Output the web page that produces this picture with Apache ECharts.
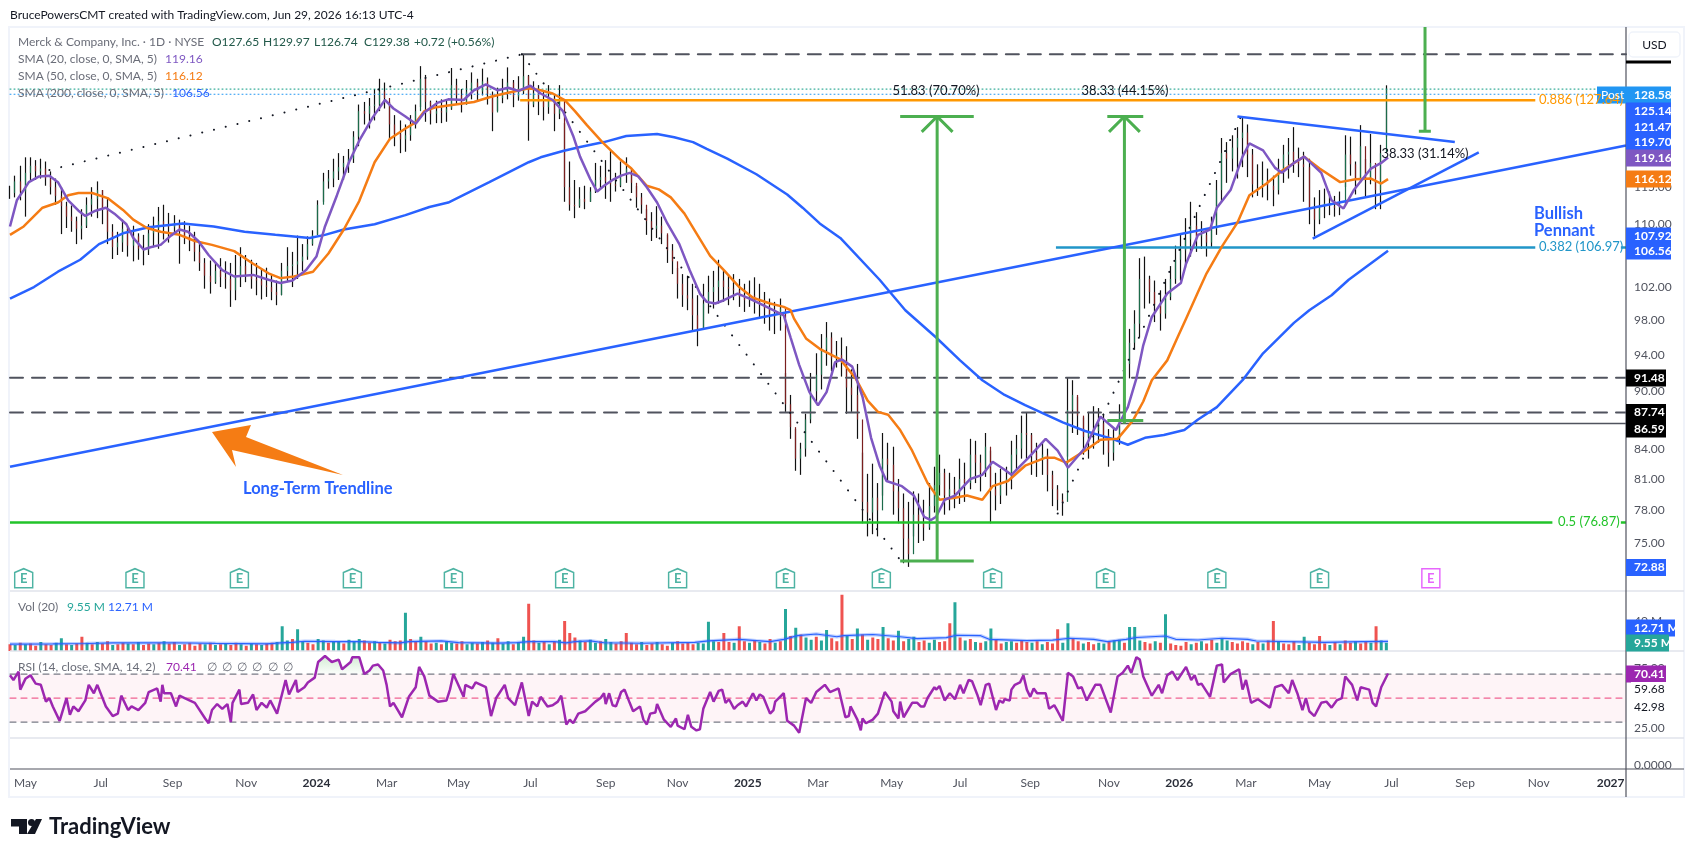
<!DOCTYPE html>
<html>
<head>
<meta charset="utf-8">
<title>MRK</title>
<script src="https://cdn.jsdelivr.net/npm/echarts@6/dist/echarts.min.js"></script>
<style>
html,body{margin:0;padding:0;background:#fff}
#main{width:1695px;height:857px}
</style>
</head>
<body>
<div id="main"></div>
<script>
// one bar every 3 sessions, bar number = position on the time scale
var barStep = 3;
var highs = [
115.2,116.6,118,119.2,119.2,118.8,119,118.6,117.2,116.2,115,113,
112.5,111,112,113.6,115,115.8,114.6,113.4,110,109,110.6,109.6,
109.8,108.8,108.6,110,111,112.3,112.6,111.5,111.2,110.6,110.4,109.8,
109,107.8,105.6,105.3,105,105.6,105.2,105,106,107,106,105.4,
105,104.2,104.4,103.6,102.8,105,107,106.4,108.5,107.4,108.4,109.2,
113.2,117,117.4,119,119.8,119.4,120.4,123,127,127.4,128,129.4,
131,130.4,127.4,125.4,124.6,124,125.4,127,133,131.6,127.6,127.6,
127.8,127.8,132.7,131,129.4,130.8,132,131,132.6,131.2,129,129.6,
131,132.8,130.8,131.4,134.9,131.6,130.6,130,129.2,130,128.6,130,
124.2,118.6,116,115,115.2,115,118.4,118,118.8,120.2,117,118.6,
119.2,117.4,115.2,114.2,112,111.6,112.4,111,108.6,107.4,104.4,103.6,
103.4,102.4,101,102.4,103.4,104,105.4,104,103.6,103.6,103,102.4,
102.8,103.2,102.4,101.4,100.6,100.2,100.6,92,89.6,86,84.6,87.6,
92,94.2,96.4,97.8,96.6,95.6,96,95,92.4,93,83.6,81.5,
82.5,80.6,85.6,84.6,84.2,81,79.6,78.8,79.8,79.6,79,80.6,
82.2,83.4,82,81.6,81.2,83,82.6,85,84.8,83.4,85.6,83.8,
81.6,82,82.2,84.8,85.4,87.4,87.7,85.6,84.6,84.6,84,81.8,
80.4,79.6,91.48,91.2,89.4,87.2,87.8,88.4,88.2,87.6,86,86,
88.6,95,97,99.2,105.6,105.8,103.4,102.8,101.6,103,104.6,107.2,
108.8,110.8,113,111.6,110.4,109.4,111,116,122,121.4,122.4,123.6,
125.14,124,120.4,118.2,118.6,117.6,116.6,119,121,122,123.6,120.6,
120,119,113.6,114.6,114.8,114.4,113.8,114.4,122.4,122.2,118.6,123.9,
119,122.6,116,121,129.97];
var lows = [
113.4,113.6,113.2,111,115.8,116,116.2,115.2,114,112.6,108.7,109.5,
109,107.4,108,109.5,111,110.8,110,107.4,105.5,106,106.4,105.8,
105.2,105.4,104.7,106,107,106.8,108,107.6,108.8,104.9,107.4,106.5,
105.2,104,101.8,101.2,102.4,102,101.8,99.6,100.4,102,102.6,101.8,
101,100.5,100.8,100.4,99.8,101,102.6,102,103,104,105.4,107.2,
108.6,113,114.8,115,116,116,117,118.4,120.8,124,123.4,124.6,
126,126.4,121.6,120.8,119.8,120,121.6,123.4,126.6,124.4,124,124.2,
124.2,124.4,126.2,127,125.8,127,127.8,127.4,128.4,127,123,126,
127.2,127.8,126.6,127.6,128.6,121.6,126.6,125.4,124.6,125.6,123,124.8,
113,111.8,110.8,112.2,112,113,114.2,114.8,113.4,113,114.4,115,
115.6,114.2,112.2,111.4,108.6,107.8,108.2,107.4,105,103.6,100.6,99.6,
99.2,96.8,95,97,98.8,99.4,100,100.2,99.8,100.4,99.6,99,
99.6,98.8,98.4,97.6,96.8,96.4,96.8,87.8,85,81.8,81.4,83.2,
86.6,88.8,90.2,92.8,92.2,92.6,91.6,87.6,87.8,85,76.8,75.6,
75.8,75.6,79.4,80.8,77.6,76.8,73.2,72.88,75.6,75,75.2,76.2,
77.8,79.4,77.6,78,78.2,78.6,78.8,80,80.6,79.8,81.2,76.8,
78,78.6,79.4,80,81.8,83,83,81.4,81.2,81.4,79.8,78.4,
78,77.5,83.2,85.6,85.4,83.4,83,84,84.6,83.4,82.2,82.8,
84.4,88,91.4,94.6,96,99.4,100,97.8,96.8,98.2,100.4,102.4,
102.8,104.4,105.8,106.4,106.8,105.8,107,108.6,113,115.6,117.2,116.2,
117.8,116.4,113.6,113.8,113.6,113.2,112.4,114,115.6,116.2,117,116.4,
113,110,108.4,110,110.8,111.2,111,111.2,115,116.6,114,115.6,
113.6,115.4,112,112,122.2];
var closes = [
114.2,115.8,114.4,117,118,117.2,117.6,116.2,115,113.8,112.4,111,
110.4,109.4,109.8,112.6,113.4,114.6,112,109,107,107.6,109.4,107.2,
108.4,106.8,106.6,108.8,109.4,110.4,110,109.6,110.2,109,108.4,107.8,
106.4,105,103.4,102.6,104,103.2,103,101.6,103.4,104.6,103.6,103,
102.8,102.2,102,101.4,101,104,104.6,104.8,105.2,105.8,107.4,108.6,
112.6,115.8,116.2,117.2,117.8,118.4,119,122.2,126,125.6,126.8,127,
129,128,124,122.6,121.8,122.4,124,126,131,127.4,125.6,126,
125.8,126.4,130,128.4,127,129,130.4,129,130.6,128.6,125.8,128,
129,130.4,128.2,129,131.4,127,128.8,127.4,126.6,128,125.6,127.6,
115,112.6,112.4,113.4,113,114.4,116,116.4,115.8,115.4,115.2,116.8,
117.6,115.6,113.6,112.6,110.4,109.4,109.8,108.8,106.6,105.2,102.4,101,
100.6,98.6,97,100,101.4,102,102.8,102,101.8,101.6,100.8,100.4,
101,100.2,100,99.4,98.6,98.4,99.4,88.6,86.2,83,84,87,
90,91.8,94.6,96,93.6,94,93.4,90.4,89.6,87,78.8,77.8,
79.2,78,83,82.4,79.8,78.2,75.4,74,77.6,76.8,76.4,78.4,
80.4,81.6,79.4,80,79.6,81,80.6,83.4,82.6,81.6,84.2,80,
79.4,80.6,81,83.4,84,85.6,85.4,83.6,83,83.4,81.4,80,
79,78.8,88,89.6,87.4,85.2,85.6,85.8,86.6,85.4,83.6,85,
87.6,93,95.4,97.6,103,103,101.4,99.8,98.8,100.8,103,105.4,
106.6,108,109.8,108.4,108.6,107.6,109.4,114.6,119.8,119,120.6,122,
122.8,119.6,115.4,115.4,116,115.2,114.6,117.4,119.6,120,118.8,118.2,
117.8,112,110.6,112.4,112.8,112.4,112.2,112.6,119.6,118.2,116,120.8,
116,118.4,114.6,119.8,129.38];
var volumes = [
9,8,11,9,10,7,12,9,8,11,17,9,
8,10,19,11,9,12,10,13,8,9,11,10,
9,12,8,10,9,11,13,10,12,8,9,11,
7,10,9,11,8,9,10,8,11,9,7,10,
9,8,10,11,12,33,14,16,29,13,11,9,
16,14,11,13,12,10,15,12,16,14,11,13,
12,10,15,13,14,51,16,12,19,13,10,11,
9,12,11,10,13,9,11,10,12,14,11,17,
10,13,9,12,19,63,14,11,13,9,12,15,
40,24,18,14,12,15,11,13,16,12,10,13,
24,11,9,12,8,10,12,9,7,11,13,10,
12,9,11,10,39,13,12,24,12,11,33,13,
11,14,12,10,16,11,13,56,20,31,22,18,
15,19,14,28,17,13,75,20,16,30,22,15,
18,16,32,17,14,27,13,16,19,12,14,11,
15,12,13,37,65,18,14,16,12,11,13,30,
16,10,12,13,11,14,12,11,13,9,12,10,
29,11,37,16,13,10,12,9,11,10,12,14,
15,11,32,32,14,12,10,13,11,49,10,8,
7,12,9,11,13,10,15,11,17,14,12,10,
13,11,9,12,10,14,40,12,10,9,13,8,
19,11,9,20,10,8,12,9,14,11,13,10,
12,11,33,14,11];
var volSide = ("dududdudduud"+"uddududduddu"+"duddududdudd"+"ddudududdudu"+"dudduuuduudd"+"uuduuduuuddu"+
 "dudddudduddu"+"duudduududud"+"uuduuddududu"+"ddduduuduudd"+"dddudduddudd"+"dduuuudddudd"+
 "ududdudududu"+"uduudddududu"+"ddudduduuddu"+"udddudududuu"+"dduudddududd"+"duuddudduudu"+
 "uduuuddududd"+"ddududduuudd"+"ddududdudddu"+"uddddududdud"+"duduu");

// [bar, value] pairs
var sma20 = [[0,109.7],[4,113.2],[8,114.6],[11,115.7],[17,116.5],[23,116.6],[28,115.7],[34,113.2],[40,111.8],[44,111.1],[50,111.8],[56,112.2],[61,111.4],[68,110],[72,108.2],[78,106.7],[82,107],[88,107.3],[94,108.5],[99,109.3],[104,109],[110,107.8],[116,106],[124,104.1],[131,103.3],[142,103.5],[151,102.9],[158,102.5],[165,102.8],[173,104.1],[179,105.8],[184,109.7],[191,113.9],[198,118.5],[204,121.6],[212,125.1],[219,127.7],[224,126.4],[231,125.2],[237,124.1],[242,125.8],[250,127.3],[256,127.8],[265,127.7],[271,129.2],[278,130.1],[285,129.2],[291,129.6],[297,129.1],[304,129.9],[310,128.7],[317,127.7],[323,126],[329,122.3],[333,119.3],[339,116.1],[343,114.4],[347,115.2],[352,116],[357,116.6],[362,117],[367,116.5],[372,115],[378,112.9],[384,110.1],[391,107.4],[397,104.1],[403,101.2],[407,100.2],[412,100],[417,100.4],[425,101.2],[432,100.6],[442,99.6],[452,98.6],[456,96],[461,92.9],[467,89.9],[472,88.5],[477,89.9],[482,93.2],[486,93.5],[492,92.7],[498,89.4],[503,85.1],[508,82.3],[512,80.8],[521,80.3],[528,79.4],[534,77.4],[538,77.1],[541,77.4],[546,79],[552,79.4],[561,81],[568,81.4],[574,82.7],[581,81.9],[585,81.4],[595,83.1],[605,85],[612,83.8],[618,82.1],[628,84.1],[637,87.3],[646,85.9],[653,88.3],[658,91.4],[662,95.1],[667,98.4],[676,101.2],[684,102.5],[687,104.9],[694,108.6],[701,109.3],[705,112.2],[713,114.6],[720,119.3],[724,121.2],[732,120.2],[739,117.7],[743,117],[750,118.4],[756,119.3],[766,117],[772,113.2],[779,112.1],[785,114.6],[795,117.6],[801,118.4],[805,119.16]];
var sma50 = [[0,108.6],[8,109.7],[19,112.2],[28,112.9],[34,113.9],[40,114.2],[48,114.2],[57,113.5],[66,111.9],[72,110.6],[80,109.5],[88,109],[99,108.6],[108,107.8],[118,107.3],[131,106.5],[142,104.9],[151,103.7],[158,103.1],[166,103.3],[177,103.9],[186,106.2],[195,109.3],[204,113.1],[213,118.5],[222,121.9],[231,123.4],[237,124.3],[242,126],[249,126.6],[257,126.9],[271,127.4],[281,128.2],[289,128.7],[303,129.5],[310,129.2],[317,128.7],[324,127.7],[330,126],[337,123.9],[346,121.4],[356,119],[363,117.6],[372,115.2],[379,114.7],[386,113.6],[394,111.4],[401,108.8],[409,105.9],[417,104.1],[426,102],[434,100.7],[444,100],[452,99.6],[456,99.2],[458,98.2],[465,95.9],[473,94.7],[485,93.5],[494,91.4],[501,89],[507,87.8],[513,87.5],[520,85.9],[527,83.8],[536,80.6],[543,79],[552,79.2],[559,79.4],[568,79],[574,80.3],[583,80.8],[593,82.3],[605,83.1],[610,83.1],[617,82.6],[628,83.8],[637,84.9],[647,85],[656,86.9],[662,88.9],[667,91.2],[676,93.4],[682,96],[687,98.2],[694,101.4],[699,103.7],[708,107.1],[717,110.2],[724,113.9],[734,115.5],[743,117.3],[756,119.3],[765,117.6],[777,115.7],[786,116.1],[795,116.2],[801,115.5],[805,116.12]];
var sma200 = [[0,100.6],[14,102],[28,103.9],[41,105.4],[52,107.4],[66,108.8],[81,109.6],[101,110.1],[119,109.7],[137,109],[155,108.6],[175,108.2],[184,108.6],[195,109.3],[213,110],[231,111.2],[245,112.3],[256,112.9],[280,115.7],[303,118.5],[310,119.2],[323,120.1],[333,120.7],[347,121.4],[360,122.3],[378,122.6],[388,122.1],[399,121.4],[407,120.4],[419,119],[436,116.8],[454,114],[463,112.2],[473,110.1],[485,108.2],[508,102.9],[514,101.4],[523,99.2],[541,96],[555,93.4],[568,91.2],[581,89.6],[593,88.5],[615,86.7],[628,85.8],[644,85],[653,84.4],[663,85.1],[674,85.4],[686,85.9],[694,87],[705,88.3],[720,91.2],[732,94.2],[750,97.7],[759,99.2],[772,101],[782,102.9],[805,106.56]];
var volMa = [[0,9.3],[25,9.5],[45,10],[60,10.8],[95,11],[120,10.2],[150,9.6],[158,10.8],[165,11.6],[172,13],[190,12.6],[205,12.4],[215,11.5],[228,10.8],[233,12.6],[252,13.4],[262,11.2],[285,10.4],[296,11.2],[303,12.4],[318,12.6],[325,10.8],[330,12.6],[339,13.6],[347,11],[369,10.3],[400,11.5],[408,13.5],[426,15.6],[436,13.8],[444,12.4],[452,15.6],[460,20.4],[471,22.7],[483,19],[487,20.4],[504,22],[520,19],[530,16.4],[547,17.8],[553,21],[567,20.4],[572,15.6],[594,13.8],[609,14.5],[619,17],[633,15.6],[641,12.4],[652,15.6],[658,18],[675,20],[681,15.6],[694,14.7],[708,17],[723,15.6],[728,13.3],[768,11.6],[790,12.4],[805,12.71]];

var rsi = [[0,69],[2,65],[5,72],[6,57],[9,66],[12,69],[15,62],[18,61],[21,47],[23,50],[25,43],[29,31],[33,50],[35,36],[37,43],[40,39],[44,48],[46,61],[49,54],[51,61],[56,43],[60,35],[63,37],[65,52],[69,40],[71,43],[75,40],[79,46],[81,55],[86,58],[88,47],[89,61],[90,54],[94,54],[97,43],[99,52],[102,50],[108,46],[114,33],[116,29],[118,40],[121,45],[124,41],[127,45],[129,30],[130,46],[134,57],[135,45],[139,46],[142,53],[144,40],[147,46],[150,42],[152,48],[156,37],[161,65],[163,53],[167,65],[168,55],[172,59],[174,63],[178,67],[180,80],[184,85],[188,80],[192,82],[194,74],[199,80],[200,84],[204,84],[207,70],[210,73],[212,77],[215,78],[218,73],[220,61],[222,43],[224,46],[229,34],[233,51],[237,59],[239,76],[242,68],[245,52],[250,47],[251,46],[255,48],[257,57],[259,70],[265,51],[266,61],[270,58],[272,63],[278,59],[281,35],[284,50],[289,61],[291,50],[295,44],[299,63],[303,35],[305,47],[308,43],[310,51],[314,43],[317,44],[320,47],[322,52],[325,28],[327,32],[329,29],[332,37],[336,39],
[339,43],[342,47],[345,50],[347,54],[348,45],[350,54],[352,44],[354,43],[357,55],[359,57],[362,46],[364,39],[368,43],[370,32],[372,28],[374,37],[377,38],[378,45],[382,32],[386,26],[389,33],[390,27],[394,24],[396,36],[398,26],[401,23],[403,24],[405,41],[406,41],[409,55],[411,47],[414,56],[416,57],[418,46],[420,49],[423,41],[425,44],[428,47],[430,43],[434,54],[436,48],[438,53],[440,51],[444,37],[446,40],[447,47],[452,54],[454,31],[458,27],[461,21],[465,50],[468,46],[471,55],[476,61],[479,55],[484,58],[488,34],[490,35],[491,43],[495,32],[497,23],[498,33],[500,29],[504,32],[507,37],
[511,55],[512,56],[515,47],[516,39],[519,33],[520,47],[522,34],[527,46],[530,46],[532,43],[534,43],[536,50],[540,59],[541,57],[543,60],[546,48],[549,54],[552,49],[555,61],[557,54],[560,65],[562,64],[565,53],[567,44],[570,61],[572,62],[576,40],[578,48],[580,46],[581,49],[584,48],[585,57],[587,61],[590,63],[592,69],[594,57],[596,51],[598,58],[600,54],[605,54],[607,41],[610,44],[612,39],[615,31],[618,71],[621,68],[624,58],[626,59],[629,48],[634,61],[637,61],[643,38],[647,68],[650,71],[653,77],[655,71],[658,84],[660,82],[662,68],[667,52],[671,61],[673,54],[676,69],[679,72],[682,65],
[683,66],[687,76],[690,65],[692,69],[694,61],[696,62],[701,51],[705,77],[708,78],[709,63],[713,70],[718,74],[720,57],[722,65],[725,46],[729,49],[736,42],[739,59],[743,61],[747,54],[749,65],[752,54],[755,40],[757,50],[759,39],[762,35],[766,46],[769,47],[772,42],[775,48],[778,50],[780,68],[784,61],[787,48],[789,59],[794,57],[796,46],[798,43],[801,59],[805,70.41]];

// time scale
var totalBars = 944;
var xTicks = [9,53,95,138,179,220,262,304,348,390,431,472,515,555,596,642,683,722,765,807,850,893,935];
var xLabels = ["May","Jul","Sep","Nov","2024","Mar","May","Jul","Sep","Nov","2025","Mar","May","Jul","Sep","Nov","2026","Mar","May","Jul","Sep","Nov","2027"];
var priceTicks = [75,78,81,84,90,94,98,102,110,115];

var earnings = [8,73,134,200,259,324,390,453,509,574,640,705,765];
var nextEarnings = [830];

var chart = echarts.init(document.getElementById('main'));
var FONT = 'Lato';
var series = [];

function drawLine(pts, color, width, dash, grid) {
    series.push({
        type: 'line', xAxisIndex: grid || 0, yAxisIndex: grid || 0, data: pts,
        symbol: 'none', silent: true, animation: false, z: 5,
        lineStyle: {color: color, width: width, type: dash || 'solid', cap: dash ? 'round' : 'butt'}
    });
}

// bars: black high-low, coloured open-close on top
var wicks = [], bodies = [];
for (var k = 0; k < closes.length; k++) {
    var op = k ? closes[k-1] : closes[0];
    wicks.push([k*barStep, op, closes[k], lows[k], highs[k]]);
    bodies.push([k*barStep, op, closes[k], Math.min(op,closes[k]), Math.max(op,closes[k])]);
}
series.push({type:'candlestick', data:wicks, barWidth:1, silent:true, animation:false, z:2,
    itemStyle:{color:'#111', color0:'#111', borderColor:'#111', borderColor0:'#111', borderWidth:1.2}});
series.push({type:'candlestick', data:bodies, barWidth:1, silent:true, animation:false, z:3,
    itemStyle:{color:'#1c6b4a', color0:'#7a1f1f', borderColor:'#1c6b4a', borderColor0:'#7a1f1f', borderWidth:1.2}});

// drawings on the price pane
var TREND = '#2962ff', GREEN = '#4caf50', DARK = '#50535e', DOTS = [0.1,12];
drawLine([[0,129.38],[944,129.38]], '#089981', 1, [1,3]);
drawLine([[0,128.58],[944,128.58]], '#2196f3', 1, [1,3]);
drawLine([[299,134.9],[944,134.9]], DARK, 2, [13,9]);
drawLine([[0,91.48],[944,91.48]], DARK, 2, [13,9]);
drawLine([[0,87.74],[944,87.74]], DARK, 2, [13,9]);
drawLine([[649,86.59],[944,86.59]], DARK, 1.5);
drawLine([[298,127.64],[891,127.64]], '#ff9800', 2.5);
drawLine([[611,106.97],[891,106.97]], '#2196c8', 2.5);
drawLine([[941,106.97],[944,106.97]], '#2196c8', 2.5);
drawLine([[0,76.87],[901,76.87]], '#22c32a', 2.5);
drawLine([[941,76.87],[944,76.87]], '#22c32a', 2.5);
drawLine([[23,117.4],[299,134.9]], '#131722', 2, DOTS);
drawLine([[299,134.9],[523,72.88]], '#131722', 2, DOTS);
drawLine([[612,77.7],[719,125.14]], '#131722', 2, DOTS);
drawLine([[0,82.2],[944,120.9]], TREND, 2.5);
drawLine([[717,125.2],[844,121.4]], TREND, 2.5);
drawLine([[761,108.1],[858,119.9]], TREND, 2.5);
drawLine(sma200, '#2962ff', 2.5);
drawLine(sma50, '#f57c14', 2.5);
drawLine(sma20, '#7e57c2', 2.5);
// measured-move arrows
drawLine([[541.6,73.4],[541.6,125.2]], GREEN, 3);
drawLine([[520,73.4],[563,73.4]], GREEN, 3);
drawLine([[520,125.2],[563,125.2]], GREEN, 3);
drawLine([[532.6,122.9],[541.6,125.2],[550.6,122.9]], GREEN, 3);
drawLine([[651,86.59],[651,125.2]], GREEN, 3);
drawLine([[641,86.9],[662,86.9]], GREEN, 3);
drawLine([[641,125.2],[662,125.2]], GREEN, 3);
drawLine([[642,122.9],[651,125.2],[660,122.9]], GREEN, 3);
drawLine([[826.6,123],[826.6,139.4]], GREEN, 3);
drawLine([[823,123],[830,123]], GREEN, 3);

// earnings flags
var flagPath = 'path://M0,4 L8,0 L16,4 L16,20 L0,20 Z';
function flagSeries(xs, path, color) {
    series.push({
        type:'scatter', data: xs.map(function(x){ return [x, 71.9]; }), symbol:path, symbolSize:[18,19],
        silent:true, animation:false, z:6,
        itemStyle:{color:'#fff', borderColor:color, borderWidth:1.5},
        label:{show:true, position:'inside', formatter:'E', color:color, fontFamily:FONT, fontSize:13, fontWeight:'bold', offset:[0,1]}
    });
}
flagSeries(earnings, flagPath, '#22a08c');
flagSeries(nextEarnings, 'rect', '#e040fb');

// volume pane
series.push({
    type:'bar', xAxisIndex:1, yAxisIndex:1, barWidth:3, silent:true, animation:false,
    data: volumes.map(function(v,k){
        return {value:[k*barStep, v], itemStyle:{color: volSide.charAt(k)=='u' ? '#26a69a' : '#ef5350'}};
    })
});
drawLine(volMa, 'rgba(41,98,255,0.3)', 3.5, null, 1);
drawLine(volMa, '#2962ff', 1.2, null, 1);

// rsi pane
series.push({
    type:'line', xAxisIndex:2, yAxisIndex:2, data:[[0,70],[944,30]], symbol:'none', silent:true, animation:false,
    lineStyle:{width:0}, z:1,
    markArea:{silent:true, itemStyle:{color:'rgba(233,30,99,0.05)'}, data:[[{xAxis:0,yAxis:70},{xAxis:944,yAxis:30}]]}
});
series.push({
    type:'line', xAxisIndex:2, yAxisIndex:2, symbol:'none', silent:true, animation:false, z:2,
    data: rsi.map(function(p){ return [p[0], Math.max(p[1],70)]; }),
    lineStyle:{width:0},
    areaStyle:{origin:70, color:new echarts.graphic.LinearGradient(0,0,0,1,[{offset:0,color:'rgba(76,175,80,0.35)'},{offset:1,color:'rgba(76,175,80,0.03)'}])}
});
drawLine([[0,70],[944,70]], '#787b86', 1.2, [6,5], 2);
drawLine([[0,50],[944,50]], '#f06292', 1.2, [6,5], 2);
drawLine([[0,30],[944,30]], '#787b86', 1.2, [6,5], 2);
drawLine(rsi, '#9c27b0', 2.5, null, 2);

function tickLabel(fmt) {
    return {color:'#50535e', fontFamily:FONT, fontSize:12, margin:8};
}
var g = [];
function txt(x, y, s, color, size, extra) {
    var st = {text:s, fill:color, font:(extra&&extra.bold?'bold ':'')+(size||12)+'px '+FONT,
        align:(extra&&extra.align)||'left', verticalAlign:'middle'};
    if (extra && extra.bg) { st.backgroundColor = extra.bg; st.padding = [1,3]; }
    g.push({type:'text', x:x, y:y, z:100, silent:true, style:st});
}
function tag(y, s, bg, fg, w) {
    g.push({type:'rect', z:90, silent:true, shape:{x:1626, y:y-8.5, width:w, height:17}, style:{fill:bg}});
    txt(1634, y, s, fg||'#fff', 12, {bold:true});
}
function hline(x1, x2, y, color, w) {
    g.push({type:'line', z:80, silent:true, shape:{x1:x1,y1:y,x2:x2,y2:y}, style:{stroke:color, lineWidth:w}});
}

// page furniture
g.push({type:'rect', z:1, silent:true, shape:{x:9,y:27,width:1675,height:770}, style:{fill:'none', stroke:'#f0f3fa', lineWidth:2}});
hline(10,1684,591,'#e0e3eb',1.5); hline(10,1684,651,'#e0e3eb',1.5); hline(10,1684,738,'#e0e3eb',1.5);
hline(10,1684,769,'#50535e',1.2);
g.push({type:'line', z:80, silent:true, shape:{x1:1626,y1:27,x2:1626,y2:797}, style:{stroke:'#50535e', lineWidth:1.2}});
txt(10, 15, 'BrucePowersCMT created with TradingView.com, Jun 29, 2026 16:13 UTC-4', '#131722', 12);

// legends
txt(18, 42, 'Merck & Company, Inc. · 1D · NYSE', '#6a6d78', 12);
var ohlc = [[212,'O127.65'],[263,'H129.97'],[314,'L126.74'],[364,'C129.38'],[414,'+0.72 (+0.56%)']];
ohlc.forEach(function(p){ txt(p[0], 42, p[1], '#22594a', 12); });
txt(18, 59, 'SMA (20, close, 0, SMA, 5)', '#6a6d78', 12); txt(165, 59, '119.16', '#7e57c2', 12);
txt(18, 76, 'SMA (50, close, 0, SMA, 5)', '#6a6d78', 12); txt(165, 76, '116.12', '#f57c14', 12);
txt(18, 93, 'SMA (200, close, 0, SMA, 5)', '#6a6d78', 12); txt(172, 93, '106.56', '#2962ff', 12);
txt(18, 607, 'Vol (20)', '#6a6d78', 12); txt(67, 607, '9.55 M', '#26a69a', 12); txt(108, 607, '12.71 M', '#2962ff', 12);
txt(18, 667, 'RSI (14, close, SMA, 14, 2)', '#6a6d78', 12); txt(166, 667, '70.41', '#9c27b0', 12);
[207,222,237,252,268,283].forEach(function(x){ txt(x, 667, '∅', '#6a6d78', 12); });

// chart notes
txt(936, 91, '51.83 (70.70%)', '#131722', 13, {align:'center'});
txt(1125, 91, '38.33 (44.15%)', '#131722', 13, {align:'center'});
txt(1425, 154, '38.33 (31.14%)', '#131722', 13, {align:'center'});
txt(1534, 214, 'Bullish', '#2962ff', 16.5, {bold:true});
txt(1534, 231, 'Pennant', '#2962ff', 16.5, {bold:true});
txt(243, 489, 'Long-Term Trendline', '#2962ff', 16.5, {bold:true});
txt(1539, 100, '0.886 (127.64)', '#ff9800', 13);
txt(1539, 247, '0.382 (106.97)', '#2196c8', 13);
txt(1558, 522, '0.5 (76.87)', '#22c32a', 13);
g.push({type:'polygon', z:50, silent:true, shape:{points:[[212,432],[251,425],[246,437],[343,475],[232,450],[236,467]]}, style:{fill:'#f57c14'}});

// price scale tags
g.push({type:'rect', z:90, silent:true, shape:{x:1629,y:32,width:51,height:25,r:4}, style:{fill:'#fff', stroke:'#f0f3fa', lineWidth:1.5}});
txt(1654.5, 45, 'USD', '#131722', 12, {align:'center'});
g.push({type:'rect', z:90, silent:true, shape:{x:1626,y:60.5,width:45,height:3}, style:{fill:'#000'}});
g.push({type:'rect', z:90, silent:true, shape:{x:1597,y:86.5,width:29,height:17}, style:{fill:'#2196f3'}});
txt(1601, 95, 'Post', '#fff', 12);
tag(95, '128.58', '#2196f3', '#fff', 45);
tag(111, '125.14', '#2962ff', '#fff', 45);
tag(127, '121.47', '#2962ff', '#fff', 45);
tag(142, '119.70', '#2962ff', '#fff', 45);
tag(158, '119.16', '#7e57c2', '#fff', 45);
tag(179, '116.12', '#f57c14', '#fff', 45);
tag(236, '107.92', '#2962ff', '#fff', 45);
tag(251, '106.56', '#2962ff', '#fff', 45);
tag(378, '91.48', '#000', '#fff', 40);
tag(412.5, '87.74', '#000', '#fff', 40);
tag(429, '86.59', '#000', '#fff', 40);
tag(567.5, '72.88', '#2962ff', '#fff', 40);
tag(628, '12.71 M', '#2962ff', '#fff', 49);
tag(643, '9.55 M', '#26a69a', '#fff', 43);
tag(674, '70.41', '#9c27b0', '#fff', 40);
txt(1631, 689, '59.68', '#131722', 12, {bg:'#fff'});
txt(1631, 707, '42.98', '#131722', 12, {bg:'#fff'});

// logo
g.push({type:'polygon', z:50, silent:true, shape:{points:[[11,819],[27,819],[27,834],[19,834],[19,826.5],[11,826.5]]}, style:{fill:'#131722'}});
g.push({type:'circle', z:50, silent:true, shape:{cx:31.5,cy:822.5,r:3.5}, style:{fill:'#131722'}});
g.push({type:'polygon', z:50, silent:true, shape:{points:[[36,819],[42,819],[35,834],[27,834]]}, style:{fill:'#131722'}});
txt(49, 827, 'TradingView', '#131722', 22, {bold:true});

var axisBase = {type:'value', min:0, max:totalBars, splitLine:{show:false}, axisTick:{show:false}, axisLine:{show:false}, axisLabel:{show:false}};
var yBase = {position:'right', splitLine:{show:false}, axisTick:{show:false}, axisLine:{show:false}};

chart.setOption({
    backgroundColor:'#fff',
    animation:false,
    grid:[
        {left:10, width:1616, top:27, height:564},
        {left:10, width:1616, top:591, height:60},
        {left:10, width:1616, top:651, height:87},
        {left:10, width:1616, top:738, height:31}
    ],
    xAxis:[
        Object.assign({gridIndex:0}, axisBase),
        Object.assign({gridIndex:1}, axisBase),
        Object.assign({gridIndex:2}, axisBase),
        Object.assign({gridIndex:3}, axisBase, {
            axisLabel:{show:true, customValues:xTicks, margin:8, color:'#50535e', fontFamily:FONT, fontSize:12,
                formatter:function(v){
                    var s = xLabels[xTicks.indexOf(v)];
                    return /^\d/.test(s) ? '{y|'+s+'}' : s;
                },
                rich:{y:{color:'#2a2e39', fontFamily:FONT, fontSize:12, fontWeight:'bold'}}
            }
        })
    ],
    yAxis:[
        Object.assign({gridIndex:0, type:'log', logBase:10, min:70.8, max:139.4}, yBase, {
            axisLabel:Object.assign(tickLabel(), {customValues:priceTicks, formatter:function(v){ return Number(v).toFixed(2); }})
        }),
        Object.assign({gridIndex:1, type:'value', min:0, max:80}, yBase, {
            axisLabel:Object.assign(tickLabel(), {customValues:[40], formatter:function(v){ return v+' M'; }})
        }),
        Object.assign({gridIndex:2, type:'value', min:16.7, max:89.2}, yBase, {
            axisLabel:Object.assign(tickLabel(), {customValues:[75,25], formatter:function(v){ return v.toFixed(2); }})
        }),
        Object.assign({gridIndex:3, type:'value', min:-0.13, max:1}, yBase, {
            axisLabel:Object.assign(tickLabel(), {customValues:[0], formatter:function(v){ return v.toFixed(4); }})
        })
    ],
    graphic:g,
    series:series
});
</script>
</body>
</html>
